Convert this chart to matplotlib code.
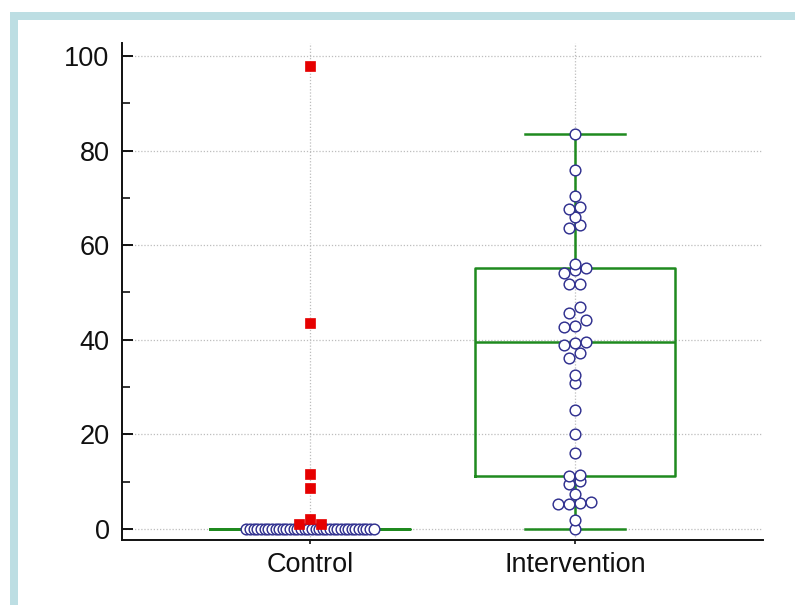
import numpy as np
import matplotlib
matplotlib.use("Agg")
import matplotlib.pyplot as plt
from matplotlib.patches import Rectangle
from matplotlib.ticker import MultipleLocator

plt.rcParams['font.family'] = ['Liberation Sans', 'DejaVu Sans']

# ---------------- data ----------------
categories = ["Control", "Intervention"]

# Control: non-outlier observations (all zero) and outliers
control_values = [0.0] * 36
control_outliers = [97.8, 43.6, 11.6, 8.6, 1.0, 2.2, 1.0]

# Intervention observations
intervention_values = [0.0, 1.9, 5.2, 5.3, 5.4, 5.6, 7.4, 9.5, 10.1, 11.3, 11.4,
                       16.0, 20.1, 25.2, 30.9, 32.6, 36.2, 37.3, 38.9, 39.3, 39.5,
                       42.6, 42.9, 44.1, 45.6, 46.9, 51.8, 51.9, 54.1, 54.8, 55.1,
                       56.0, 63.6, 64.3, 65.9, 67.6, 68.0, 70.4, 75.9, 83.5]
intervention_outliers = []

# box statistics: whisker low, q1, median, q3, whisker high
box_whislo = [0.0, 0.0]
box_q1 = [0.0, 11.2]
box_med = [0.0, 39.5]
box_q3 = [0.0, 55.1]
box_whishi = [0.0, 83.5]

y_ticks = [0, 20, 40, 60, 80, 100]

# ---------------- helpers ----------------
def swarm_offsets(values, thresh=1.6, step=0.0415, max_span=0.48):
    values = np.asarray(values, dtype=float)
    n = len(values)
    offsets = np.zeros(n)
    if n == 0:
        return offsets
    order = np.argsort(values, kind="stable")
    groups, cur, start = [], [order[0]], values[order[0]]
    for i in order[1:]:
        if values[i] - start <= thresh:
            cur.append(i)
        else:
            groups.append(cur)
            cur, start = [i], values[i]
    groups.append(cur)
    for g in groups:
        g = sorted(g)
        m = len(g)
        s = step if (m - 1) * step <= max_span else max_span / (m - 1)
        for k, idx in enumerate(g):
            offsets[idx] = (k - (m - 1) / 2) * s
    return offsets

# ---------------- figure ----------------
fig = plt.figure(figsize=(7.95, 6.05), dpi=100)
W, H = 795, 605
band = "#bddee3"
fig.patches.append(Rectangle((10 / W, 0), 8 / W, (H - 12) / H, transform=fig.transFigure,
                             facecolor=band, edgecolor="none", zorder=0))
fig.patches.append(Rectangle((10 / W, (H - 20) / H), (W - 10) / W, 8 / H, transform=fig.transFigure,
                             facecolor=band, edgecolor="none", zorder=0))

ax = fig.add_axes([122 / W, 1 - 540 / H, (763 - 122) / W, (540 - 43) / H])
ax.set_facecolor("none")

green = "#1f8a1f"
stats = []
for i in range(len(categories)):
    stats.append(dict(whislo=box_whislo[i], q1=box_q1[i], med=box_med[i],
                      q3=box_q3[i], whishi=box_whishi[i], fliers=[]))
ax.bxp(stats, positions=range(len(categories)), widths=0.755, showfliers=False,
       boxprops=dict(color=green, linewidth=1.8),
       medianprops=dict(color=green, linewidth=1.8),
       whiskerprops=dict(color=green, linewidth=1.8),
       capprops=dict(color=green, linewidth=1.8),
       capwidths=0.377, manage_ticks=False, zorder=2)

all_vals = [control_values, intervention_values]
all_out = [control_outliers, intervention_outliers]
for i in range(len(categories)):
    v = np.asarray(all_vals[i], dtype=float)
    off = swarm_offsets(v)
    ax.plot(i + off, v, linestyle="none", marker="o", markersize=7.7,
            markerfacecolor="white", markeredgecolor="#30308f", markeredgewidth=1.05, zorder=3)
    o = np.asarray(all_out[i], dtype=float)
    if len(o):
        oo = swarm_offsets(o)
        ax.plot(i + oo, o, linestyle="none", marker="s", markersize=7.8,
                markerfacecolor="#e60000", markeredgecolor="#e60000", markeredgewidth=0.5, zorder=4)

ax.set_xlim(-0.71, 1.71)
ax.set_ylim(-2.33, 102.75)
ax.set_xticks(range(len(categories)))
ax.set_xticklabels(categories)
ax.set_yticks(y_ticks)
ax.yaxis.set_minor_locator(MultipleLocator(10))

ax.grid(True, which="major", color="#bdbdbd", linestyle=(0, (1, 1.5)), linewidth=0.9, zorder=0)
ax.set_axisbelow(True)

for s in ["top", "right"]:
    ax.spines[s].set_visible(False)
for s in ["left", "bottom"]:
    ax.spines[s].set_linewidth(1.4)
    ax.spines[s].set_color("#111111")

ax.tick_params(axis="y", which="major", direction="in", length=8, width=1.4,
               labelsize=19.5, pad=9, colors="#111111")
ax.tick_params(axis="y", which="minor", direction="in", length=5.5, width=1.2, colors="#111111")
ax.tick_params(axis="x", which="major", direction="out", length=3, width=1.2,
               labelsize=19.5, pad=6, colors="#111111")

fig.savefig("out.png", dpi=100)
